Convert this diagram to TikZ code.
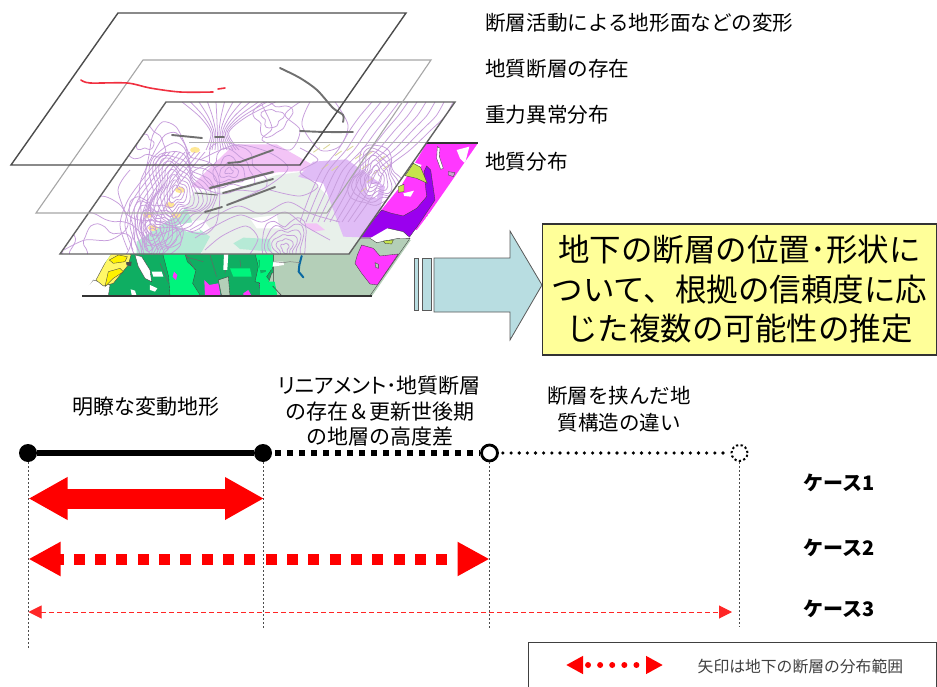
\documentclass[tikz,border=0pt]{standalone}
\usepackage{fontspec}
\setmainfont{Noto Sans CJK JP}
\newfontfamily\pfont[RawFeature=+palt]{Noto Sans CJK JP}
\usetikzlibrary{arrows.meta}
\definecolor{gGreen}{HTML}{0FAE62}
\definecolor{bGreen}{HTML}{00F47C}
\definecolor{sage}{HTML}{B4CFB8}
\definecolor{mag}{HTML}{FF38FF}
\definecolor{purp}{HTML}{9A00EE}
\definecolor{ctrcol}{HTML}{C79EDC}
\definecolor{faultcol}{HTML}{707070}
\definecolor{arrowfill}{HTML}{B8DDE1}
\definecolor{boxyellow}{HTML}{FFFF99}
\definecolor{paleteal}{HTML}{B6EAD6}
\definecolor{palegrey}{HTML}{E8F0EA}
\definecolor{palepink}{HTML}{F3C4F6}
\definecolor{palevio}{HTML}{E0BCF6}
\definecolor{redtrace}{HTML}{F03040}
\tikzset{
 zfive/.style={shift={(70,220)},x=.3333pt,y=-.3333pt},
 zsix/.style={shift={(270,130)},x=.3333pt,y=-.3333pt},
 zseven/.style={shift={(130,95)},x=.3333pt,y=-.3333pt},
 geo/.style={draw=black!75,line width=.35pt},
 ctr/.style={draw=ctrcol,line width=.75pt},
 fault/.style={draw=faultcol,line cap=round,line join=round,line width=1.9pt},
 redline/.style={draw=redtrace,line cap=round,line join=round,line width=1.6pt},
 planeA/.style={draw=black!70,line width=1.4pt,line join=miter},
 planeB/.style={draw=black!35,line width=1.1pt},
 planeC/.style={draw=black!62,line width=1.4pt},
 lbl/.style={font=\fontsize{21}{25.5}\selectfont,inner sep=0pt,align=center},
 lbll/.style={font=\fontsize{20.6}{25}\selectfont,inner sep=0pt,anchor=west},
 caselbl/.style={font=\fontsize{20}{24}\selectfont\bfseries,inner sep=0pt,anchor=west},
 vdot/.style={draw=black!70,line width=.8pt,dash pattern=on 2pt off 2pt},
 ptsolid/.style={circle,fill=black,minimum size=18pt,inner sep=0pt},
 ptopen/.style={circle,draw=black,fill=white,line width=2.8pt,minimum size=16pt,inner sep=0pt},
 ptdot/.style={circle,draw=black,fill=white,line width=2pt,dash pattern=on 2.2pt off 2.4pt,minimum size=16pt,inner sep=0pt},
 bluearrow/.style={draw=black!65,fill=arrowfill,line width=.8pt},
}
\newcommand{\contours}[5]{%
 \foreach \rr in {#5}{\draw[ctr] plot[smooth cycle,variable=\t,domain=0:345,samples=24]
 ({#1+#3*\rr*(1+.2*sin(3*\t+#4)+.11*cos(5*\t+\rr*9))*cos(\t)},{#2+\rr*(1+.2*sin(3*\t+#4)+.11*cos(5*\t+\rr*9))*sin(\t)});}}
\def\planeApath{(118,13)--(406,13)--(300,165)--(11,165)--cycle}
\def\planeBpath{(143,60)--(431,60)--(327,213)--(36,213)--cycle}
\def\planeCpath{(166,102)--(455,102)--(349,254)--(60,254)--cycle}
\def\planeDpath{(189,143)--(478,143)--(372,296)--(82,296)--cycle}
\begin{document}
\begin{tikzpicture}[x=1pt,y=-1pt]
\useasboundingbox (0,0) rectangle (937,687);
\fill[white] (0,0) rectangle (937,687);
% ---------- geological map
\begin{scope}
\clip \planeDpath;
\fill[sage] (270,240) rectangle (478,296);
\fill[gGreen] (105,250) rectangle (274,296);
\begin{scope}[zfive]
 \fill[bGreen,geo] (278,100)--(345,100)--(352,125)--(378,150)--(368,190)--(392,228)--(300,228)--(296,170)--cycle;
 \fill[bGreen] (480,145)--(540,145)--(545,170)--(490,170)--cycle;
 \fill[bGreen,geo] (555,100)--(610,100)--(610,140)--(590,170)--(610,195)--(590,195)--(555,185)--(565,140)--cycle;
 \fill[gGreen] (565,120)--(582,118)--(588,155)--(572,160)--cycle;
 \draw[black!60,line width=.5pt] (345,100)--(375,150) (420,105)--(440,170) (475,100)--(465,160) (510,120)--(512,140) (270,130)--(296,190) (345,110)--(400,125);
 \fill[white,geo] (195,105)--(215,110)--(240,150)--(245,185)--(225,175)--(205,140)--cycle;
 \fill[white] (245,155)--(275,155)--(280,170)--(250,170)--cycle;
 \fill[white] (182,208)--(195,212)--(200,228)--(185,225)--cycle;
 \fill[white] (240,195)--(262,205)--(255,215)--(240,210)--cycle;
 \fill[sage,geo] (445,180)--(475,170)--(480,228)--(455,228)--cycle;
 \fill[white] (462,100)--(475,100)--(472,150)--(460,150)--cycle;
 \fill[white,geo] (30,228)--(70,180)--(120,195)--(115,228)--cycle;
 \fill[yellow!60!white,geo] (118,105)--(130,85)--(165,85)--(183,105)--(175,135)--(130,190)--(100,198)--(78,180)--cycle;
 \fill[yellow,geo] (118,120)--(145,105)--(172,110)--(165,125)--(130,130)--cycle;
 \fill[yellow,geo] (115,155)--(150,145)--(160,155)--(130,175)--(105,200)--cycle;
 \fill[black!70] (168,127)--(185,125)--(183,138)--(170,136)--cycle;
 \fill[mag] (403,180)--(418,195)--(445,190)--(452,228)--(405,228)--cycle;
 \fill[mag] (520,220)--(535,210)--(545,228)--(520,228)--cycle;
 \fill[mag,geo] (568,190)--(582,188)--(582,204)--(570,206)--cycle;
 \fill[mag] (312,155)--(322,165)--(318,180)--(308,170)--cycle;
 \fill[sage,geo] (605,160)--(630,150)--(630,228)--(605,228)--(590,205)--cycle;
\end{scope}
\begin{scope}[zsix]
 \fill[mag] (330,245)--(395,165)--(470,40)--(640,40)--(440,300)--cycle;
 \fill[purp,geo] (268,322)--(335,240)--(365,250)--(400,258)--(440,235)--(470,200)--(462,125)--(470,108)--(482,120)--(495,210)--(445,285)--(418,322)--(400,305)--(355,295)--(335,322)--cycle;
 \fill[white] (560,60)--(598,50)--(585,100)--(570,85)--cycle;
 \fill[white,geo] (502,50)--(510,55)--(508,80)--(520,115)--(512,118)--(500,85)--cycle;
 \fill[sage!70!mag,geo] (535,125)--(555,128)--(550,140)--(535,135)--cycle;
 \fill[white] (425,95)--(455,105)--(445,120)--(425,110)--cycle;
 \fill[yellow!70!green!75!white,geo] (410,130)--(430,100)--(452,112)--(472,160)--(440,145)--(405,137)--cycle;
 \fill[yellow!70!green!75!white,geo] (385,170)--(402,163)--(402,185)--(385,187)--cycle;
 \fill[white] (400,190)--(432,182)--(422,200)--(403,198)--cycle;
 \fill[white] (262,325)--(300,325)--(352,295)--(420,322)--(380,326)--(320,338)--cycle;
 \fill[sage,geo] (265,325)--(300,325)--(320,338)--(380,326)--(420,325)--(300,497)--(10,497)--(10,372)--(238,372)--cycle;
 \fill[white] (8,395)--(40,395)--(42,405)--(8,410)--cycle;
 \fill[yellow!70!green!75!white,geo] (340,333)--(370,330)--(365,342)--(345,340)--cycle;
 \fill[mag,geo] (275,345)--(310,355)--(330,378)--(385,372)--(322,465)--(300,462)--(275,430)--(255,400)--(262,375)--cycle;
 \fill[sage,geo] (315,398)--(325,403)--(325,415)--(317,412)--cycle;
 \fill[bGreen] (-30,375)--(6,375)--(10,395)--(4,420)--(-30,420)--cycle;
 \fill[bGreen] (-30,455)--(14,455)--(22,497)--(-30,497)--cycle;
 \draw[gGreen!60!blue,line cap=round,line join=round,line width=2pt] (95,378)--(88,405)--(86,425)--(100,442);
 \draw[black!50,line width=.5pt] (8,395)--(40,398)--(60,395)--(90,398);
 \draw[black!70,line width=.6pt] (8,468)--(35,497);
\end{scope}
\end{scope}
% ---------- gravity plane
\fill[white] \planeCpath;
\begin{scope}
\clip \planeCpath;
\begin{scope}
\clip \planeDpath;
\begin{scope}[zseven]
 \fill[palegrey] (160,360)--(190,290)--(290,290)--(440,240)--(520,230)--(590,300)--(690,420)--(660,480)--(220,480)--cycle;
 \fill[white] (170,380)--(220,375)--(240,400)--(210,420)--(150,400)--cycle;
 \fill[white] (360,370)--(440,360)--(450,400)--(380,400)--cycle;
 \fill[palepink] (182,275)--(240,218)--(290,170)--(310,148)--(440,148)--(540,205)--(575,225)--(440,232)--(290,270)--(240,285)--cycle;
 \fill[palepink] (520,385)--(560,385)--(585,405)--(550,410)--cycle;
 \fill[white] (195,225) rectangle (215,240);
 \fill[paleteal] (20,480)--(20,440)--(80,400)--(170,338)--(190,390)--(240,425)--(210,480)--cycle;
 \fill[paleteal] (310,445)--(340,428)--(420,432)--(425,470)--(330,462)--cycle;
 \fill[white] (140,390)--(200,380)--(210,410)--(170,410)--cycle;
\end{scope}
\begin{scope}[zsix]
 \fill[palevio] (85,140)--(130,95)--(230,88)--(345,170)--(330,240)--(270,322)--(220,320)--(190,240)--(160,160)--cycle;
 \fill[white] (155,45)--(190,45)--(190,85)--(160,85)--cycle;
 \fill[white] (290,160)--(330,165)--(320,205)--(290,195)--cycle;
 \foreach \a/\b in {140/60,170/50,205/70,240/55,265/80,300/70,335/85,165/110,195/115,285/110,320/125,350/110,300/150,280/180}
   \draw[yellow!65!black!45!white,line width=.9pt,rotate around={35:(\a,\b)}] (\a-12,\b)--(\a+12,\b);
\end{scope}
\end{scope}
\foreach \a/\b in {170/205,176/215,148/215,153/228,180/190,195/150}
  \fill[yellow!60!orange!40!white] (\a,\b) ellipse (5 and 3);
% fan of contours below the top edge
\foreach \i in {0,...,11}{
 \draw[ctr] plot[smooth] coordinates {({182+8.5*\i},102) ({200+4.2*\i},117) ({211+1.6*\i},133) ({206+3*\i},150)};
}
% parallel contours at the top right
\foreach \i in {0,...,9}{
 \draw[ctr] plot[smooth] coordinates {({372+9*\i},102) ({360+9.5*\i},116) ({350+9*\i},130) ({338+8*\i},150) ({322+7*\i},170) ({310+7*\i},195) ({300+6*\i},222)};
}
% parallel contours on the left
\foreach \i in {0,...,8}{
 \draw[ctr] plot[smooth] coordinates {({128+5*\i},250) ({120+5*\i},225) ({128+5*\i},200) ({146+5*\i},175) ({165+5*\i},152)};
}
\contours{176}{192}{.72}{60}{6,10,14,18,22,26,30,34,38,43,49,56}
\contours{376}{178}{.8}{10}{6,10,14,18,22,26,30}
\contours{229}{171}{1.3}{0}{3,7,12,18,25}
\contours{153}{232}{.75}{120}{4,8,12,16,20,24,28,33}
\contours{285}{248}{.72}{200}{5,10,15,20,25,30}
\contours{105}{245}{1.3}{100}{18,30,46}
\contours{272}{118}{1.1}{150}{9,16}
\contours{145}{143}{1.2}{10}{7,16}
% wavy open contours across the middle
\draw[ctr] plot[smooth] coordinates {(195,238) (215,226) (240,215) (262,222) (285,212) (305,226) (330,240)};
\draw[ctr] plot[smooth] coordinates {(190,230) (212,218) (238,206) (262,214) (288,202) (312,214) (340,222)};
\draw[ctr] plot[smooth] coordinates {(205,250) (222,236) (246,226) (258,238) (250,254)};
\draw[ctr] plot[smooth] coordinates {(270,190) (300,196) (318,186) (300,172) (318,160) (300,148)};
\draw[ctr] plot[smooth] coordinates {(262,105) (272,128) (262,140) (290,150) (300,130) (285,115) (300,102)};
\draw[ctr] plot[smooth] coordinates {(310,102) (302,125) (320,150) (340,146) (348,125) (335,102)};
\draw[ctr] plot[smooth] coordinates {(64,250) (85,240) (110,240) (128,225) (118,190) (130,170)};
\draw[ctr] plot[smooth] coordinates {(200,160) (235,145) (268,152) (288,168) (268,186) (238,200)};
\end{scope}
\draw[black!30,line width=1pt] (189,143)--(426,143);
\draw[black!80,line width=1.5pt] (426,143)--(478,143);
\draw[black!80,line width=1.3pt] (82,296)--(372,296);
% ---------- planes and traces
\draw[planeC] \planeCpath;
\draw[planeB] \planeBpath;
\draw[fault] plot[smooth] coordinates {(280,68) (300,78) (317,90) (333,108) (343,115) (343,122)};
\draw[fault] plot[smooth] coordinates {(300,131) (325,132) (353,132)};
\draw[fault] (172,135)--(202,138);
\draw[fault] (215,137)--(224,137);
\draw[fault] (228,163)--(240,162)--(273,150);
\draw[fault,line width=2.2pt] (210,188)--(273,172);
\draw[fault] (223,193)--(273,179);
\draw[fault] (205,212)--(222,207);
\draw[fault] (227,205)--(275,187);
\draw[fault,line width=1pt] (195,193)--(217,195);
\draw[planeA] \planeApath;
\draw[redline] plot[smooth] coordinates {(81,80) (90,83) (127,83) (150,88) (180,92) (213,92)};
\draw[redline] (218,89)--(225,88);
% ---------- layer labels
\node[lbll] (l1) at (485,23) {断層活動による地形面などの変形};
\node[lbll] (l2) at (485,69) {地質断層の存在};
\node[lbll] (l3) at (485,115) {重力異常分布};
\node[lbll] (l4) at (485,162) {地質分布};
% ---------- big arrow and box
\draw[bluearrow] (414,258) rectangle (418.5,310);
\draw[bluearrow] (422,258) rectangle (431,310);
\draw[bluearrow] (434,258)--(510,258)--(510,231)--(542,285)--(510,340)--(510,312)--(434,312)--cycle;
\node[draw=black!80,fill=boxyellow,line width=1.1pt,minimum width=394pt,minimum height=131pt,inner sep=0pt,align=center,
 font=\fontsize{31.5}{39.5}\selectfont] (result) at (739.5,289.5) {地下の断層の位置･形状に\\ついて、根拠の信頼度に応\\じた複数の可能性の推定};
% ---------- evidence labels
\node[lbl] (t1) at (145.5,407) {明瞭な変動地形};
\node[lbl] (t2) at (379.5,411.5) {{\pfont リニアメント･}地質断層\\の存在＆更新世後期\\の地層の高度差};
\node[lbl,font=\fontsize{20.5}{27}\selectfont] (t3) at (619,409.5) {断層を挟んだ地\\質構造の違い};
% ---------- reliability line
\node[ptsolid] (p1) at (28,453) {};
\node[ptsolid] (p2) at (263,453) {};
\node[ptopen] (p3) at (489.5,453) {};
\node[ptdot] (p4) at (739.5,453) {};
\draw[black,line width=5.5pt] (p1)--(p2);
\draw[black,line width=6pt,dash pattern=on 6pt off 6pt] ([xshift=3pt]p2.east)--(p3.west);
\draw[black,line width=3.6pt,line cap=round,dash pattern=on 0pt off 8.15pt] ([xshift=4pt]p3.east)--(p4.west);
\coordinate (v1) at (28,650);
\coordinate (v2) at (263,628);
\coordinate (v3) at (489.5,628);
\coordinate (v4) at (739.5,627);
\draw[vdot] (p1)--(v1);
\draw[vdot] (p2)--(v2);
\draw[vdot] (p3.south)--(v3);
\draw[vdot] (p4.south)--(v4);
% ---------- case arrows
\coordinate (a1l) at (28.5,498.5);
\coordinate (a1r) at (264,498.5);
\coordinate (a2l) at (28.5,559);
\coordinate (a2r) at (489.5,559);
\coordinate (a3l) at (28.5,612);
\coordinate (a3r) at (732,612);
\draw[red,line width=20pt,{Triangle[length=39pt,width=40pt]}-{Triangle[length=39pt,width=40pt]}] (a1l)--(a1r);
\draw[red,line width=11pt,dash pattern=on 11pt off 10.33pt,dash phase=6pt,{Triangle[length=32pt,width=32pt]}-{Triangle[length=32pt,width=32pt]}] (a2l)--(a2r);
\draw[red!85!white,line width=1pt,dash pattern=on 5pt off 3pt,{Triangle[length=13pt,width=13pt]}-{Triangle[length=13pt,width=13pt]}] (a3l)--(a3r);
\node[caselbl] (c1) at (803,483) {ケース1};
\node[caselbl] (c2) at (803,548) {ケース2};
\node[caselbl] (c3) at (803,609) {ケース3};
% ---------- legend
\draw[black!75,line width=1pt] (936.5,690)--(936.5,642)--(528,642)--(528,690);
\coordinate (kl) at (566,665);
\coordinate (kr) at (663,665);
\draw[red,{Triangle[length=17pt,width=17pt]}-{Triangle[length=17pt,width=17pt]},line width=6pt,dash pattern=on 0pt off 12.1pt,line cap=round,dash phase=6pt] (kl)--(kr);
\node[inner sep=0pt,anchor=west,text=black!75,font=\fontsize{15.8}{18}\selectfont] (legend) at (697.5,667) {矢印は地下の断層の分布範囲};
\end{tikzpicture}
\end{document}
